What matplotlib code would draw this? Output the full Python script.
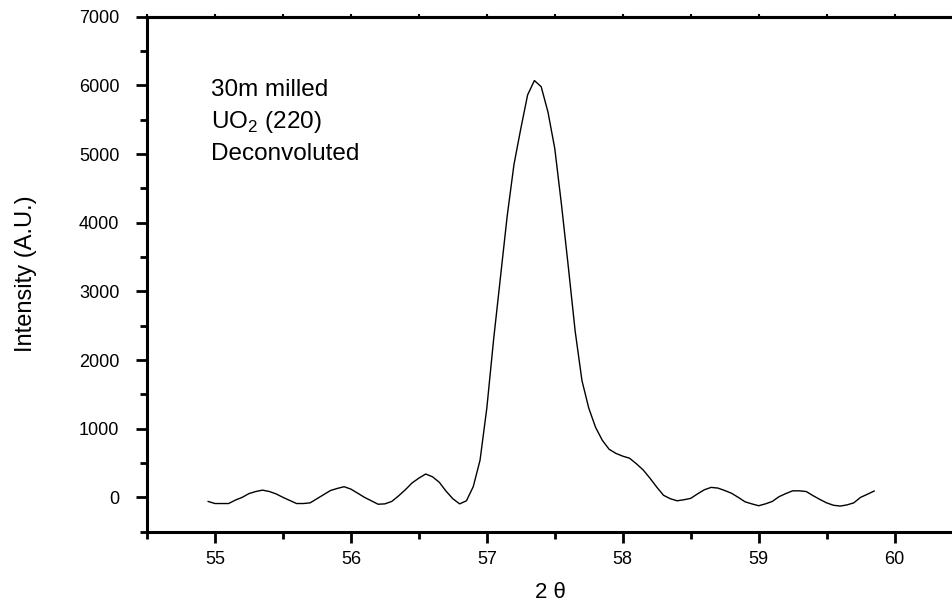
import matplotlib
matplotlib.use('Agg')
import matplotlib.pyplot as plt
from matplotlib.ticker import MultipleLocator

# 2-theta sampling (deg) and deconvoluted intensity (A.U.)
two_theta = [54.95, 55.00, 55.05, 55.10, 55.15, 55.20, 55.25, 55.30, 55.35, 55.40,
             55.45, 55.50, 55.55, 55.60, 55.65, 55.70, 55.75, 55.80, 55.85, 55.90,
             55.95, 56.00, 56.05, 56.10, 56.15, 56.20, 56.25, 56.30, 56.35, 56.40,
             56.45, 56.50, 56.55, 56.60, 56.65, 56.70, 56.75, 56.80, 56.85, 56.90,
             56.95, 57.00, 57.05, 57.10, 57.15, 57.20, 57.25, 57.30, 57.35, 57.40,
             57.45, 57.50, 57.55, 57.60, 57.65, 57.70, 57.75, 57.80, 57.85, 57.90,
             57.95, 58.00, 58.05, 58.10, 58.15, 58.20, 58.25, 58.30, 58.35, 58.40,
             58.45, 58.50, 58.55, 58.60, 58.65, 58.70, 58.75, 58.80, 58.85, 58.90,
             58.95, 59.00, 59.05, 59.10, 59.15, 59.20, 59.25, 59.30, 59.35, 59.40,
             59.45, 59.50, 59.55, 59.60, 59.65, 59.70, 59.75, 59.80, 59.85]
intensity = [-60, -90, -90, -90, -40, 0, 55, 85, 105, 85,
             50, 0, -45, -90, -90, -80, -20, 40, 100, 130,
             155, 120, 60, 0, -50, -100, -95, -60, 20, 110,
             210, 280, 340, 300, 220, 90, -20, -95, -50, 155,
             540, 1300, 2300, 3200, 4100, 4850, 5370, 5860, 6070, 5980,
             5610, 5080, 4250, 3350, 2420, 1700, 1300, 1020, 830, 700,
             640, 600, 570, 490, 400, 280, 150, 30, -20, -50,
             -35, -15, 50, 110, 145, 135, 100, 60, 0, -65,
             -95, -122, -95, -60, 10, 55, 95, 95, 85, 25,
             -30, -80, -115, -127, -110, -80, 0, 45, 92]

plt.rcParams['font.family'] = ['Liberation Sans', 'DejaVu Sans']
plt.rcParams['mathtext.fontset'] = 'custom'
plt.rcParams['mathtext.rm'] = 'Liberation Sans'

fig = plt.figure(figsize=(9.53, 6.02), dpi=100)
ax = fig.add_axes([0.1543, 0.1168, 0.8457, 0.8555])

ax.plot(two_theta, intensity, color='k', linewidth=1.0)

ax.set_xlim(54.5, 60.43)
ax.set_ylim(-500, 7000)
ax.xaxis.set_major_locator(MultipleLocator(1))
ax.xaxis.set_minor_locator(MultipleLocator(0.5))
ax.yaxis.set_major_locator(MultipleLocator(1000))
ax.yaxis.set_minor_locator(MultipleLocator(500))

ax.spines['right'].set_visible(False)
for s in ['left', 'bottom', 'top']:
    ax.spines[s].set_linewidth(2.2)

ax.tick_params(which='major', direction='out', length=8, width=2, labelsize=13)
ax.tick_params(axis='x', which='major', pad=6)
ax.tick_params(axis='y', which='major', pad=12)
ax.tick_params(which='minor', direction='out', length=5, width=2)

top = ax.secondary_xaxis('top')
top.xaxis.set_major_locator(MultipleLocator(0.5))
top.tick_params(direction='out', length=2, width=1.5, labeltop=False)
top.spines['top'].set_linewidth(2.2)

ax.set_xlabel('2 \u03b8', fontsize=16, labelpad=10)
ax.set_ylabel('Intensity (A.U.)', fontsize=17, labelpad=30)

ax.text(0.079, 0.858, '30m milled', transform=ax.transAxes, fontsize=17.5, va='center')
ax.text(0.079, 0.796, r'UO$_2$ (220)', transform=ax.transAxes, fontsize=17.5, va='center')
ax.text(0.079, 0.733, 'Deconvoluted', transform=ax.transAxes, fontsize=17.5, va='center')

fig.savefig('out.png', dpi=100)
